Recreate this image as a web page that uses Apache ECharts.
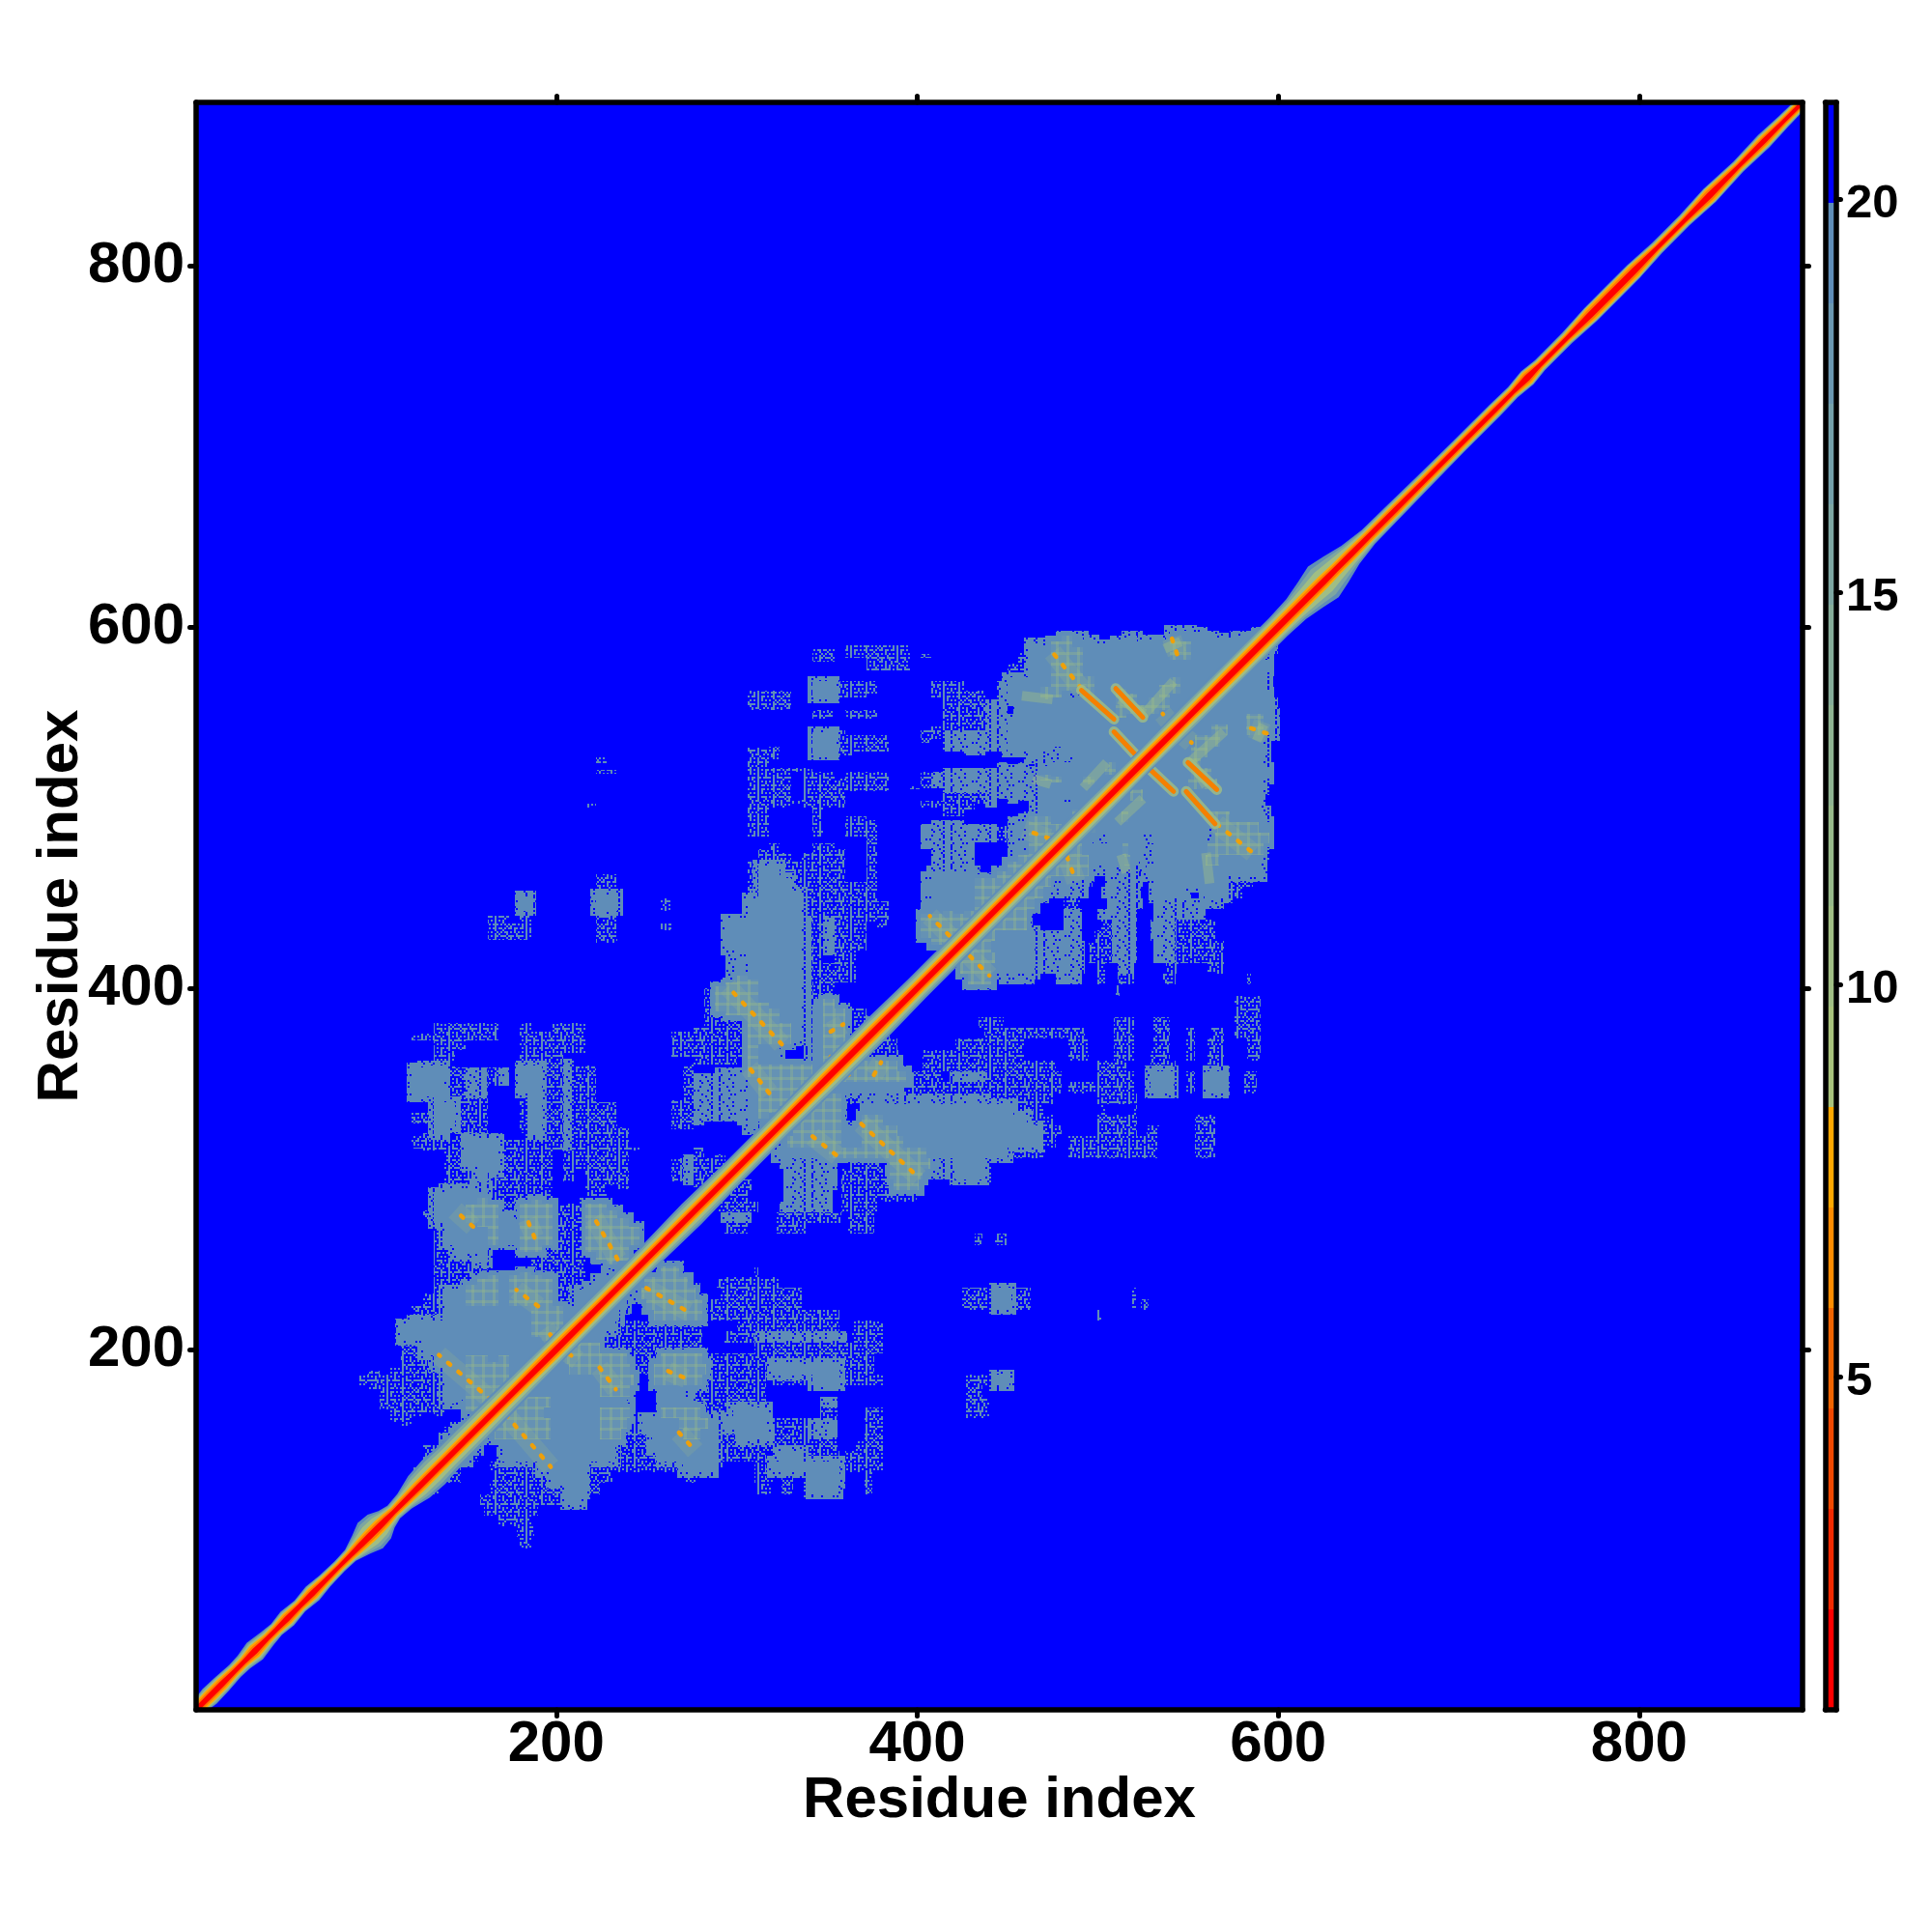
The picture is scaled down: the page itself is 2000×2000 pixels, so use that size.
<!DOCTYPE html>
<html>
<head>
<meta charset="utf-8">
<style>html,body{margin:0;padding:0;background:#fff}#c{width:2000px;height:2000px}</style>
<script src="https://cdn.jsdelivr.net/npm/echarts@6/dist/echarts.min.js"></script>
</head>
<body>
<div id="c"></div>
<script>
// tick labels
const residueTicks = [200, 400, 600, 800];
const colorbarTicks = [5, 10, 15, 20];
const axisTitle = 'Residue index';

// colour bar: level edges and level colours
const levelEdges = [0.76,2.04,3.32,4.6,5.88,7.16,8.44,9.72,11,12.28,13.56,14.84,16.12,17.4,18.68,19.96,21.24];
const levelColors = ['#FF0000','#F22A00','#F04800','#F06400','#FF8C00','#FFA800','#A8C27C','#A0BE84','#97B98A','#8FB392','#86AD9A','#7DA6A2','#74A0AA','#6A97B0','#5F8DB8','#0000FF'];

// contact map, half below the main diagonal; the map is symmetric.
// each row: [row start residue, "from-to kind ..."]; kinds: s sparse, d dense, g solid, h near-contact plaid
const rowHeight = 6;
const contactRows = [
[90,"180-186s"],[96,"178-188s"],[102,"167-186s"],[108,"160-190s"],
[114,"158-205s 205-214g"],
[120,"130-135s 163-205s 205-216g 216-224s 311-319s 325-331s 340-356g 371-375s"],
[126,"134-147s 165-197s 197-216g 216-231s 272-277s 310-320s 325-331s 340-357g 371-375s"],
[132,"134-147s 163-190s 190-216g 216-235s 235-270s 270-287g 310-319s 319-357g 357-381s"],
[138,"138-151g 151-157s 170-233g 233-258s 258-289g 289-316s 323-337g 337-357s 360-381s"],
[144,"144-157g 172-233g 233-253s 253-289g 291-317s 317-356s 366-381s"],
[150,"150-160g 166-197h 197-224g 224-236h 236-252s 253-270g 270-280h 280-289g 291-302s 302-317g 317-339s 339-356d 371-381s"],
[156,"156-166g 166-197h 197-224g 224-239h 239-248s 248-268g 268-284h 284-287g 293-317g 317-339s 339-356d 371-381s"],
[162,"170-193h 193-224g 224-241h 258-280h 280-298s 298-317g 346-356s 371-381s 427-440s"],
[168,"176-197h 197-224g 224-239g 258-274g 274-316s 346-356d 427-440s"],
[174,"180-224g 224-241h 258-272g 274-316s 427-436s"],
[180,"186-224g 224-243h 254-281h 281-316s 320-338s 342-357g 357-381s 427-440s 443-451g"],
[186,"190-207g 207-241h 241-254s 254-283h 285-319s 319-357g 357-376s"],
[192,"193-205g 205-239h 239-258s 258-281h 281-290s 291-357s 357-376s"],
[198,"204-224h 224-281s 310-357s 357-381s"],
[204,"206-224g 224-281s 293-310s 310-361d 364-381s"],
[210,"210-233g 233-281s 300-357s 364-381s"],
[216,"216-235g 254-281h 285-357s 500-502s"],
[222,"222-239g 250-281h 285-337s 425-443s 443-452g 452-463s 519-521s 524-528s"],
[228,"228-241g 247-277h 291-337s 425-443s 443-452g 452-463s 519-521s"],
[234,"234-245g 249-273h 289-323s"],
[240,"258-268h 310-312s"],
[258,"432-436s 443-450s"],
[264,"293-306s 322-338s 362-376s"],
[270,"291-308d 322-358s 362-376s"],
[276,"290-312s 324-353d 358-378s"],
[282,"296-306s 326-353d 358-400s"],
[288,"300-308s 326-356d 358-385s 387-401h"],
[294,"326-356d 358-385s 385-403h 403-421d 421-438g"],
[300,"324-356d 362-380s 385-407h 407-420d 420-438g"],
[306,"322-351g 351-385h 385-405h 405-450g 450-470s 484-533s 554-565s"],
[312,"328-358h 358-369g 369-392h 392-468g 468-477s 484-533s 554-565s"],
[318,"331-358h 358-369g 369-389h 389-468g 468-480s 500-522s 527-534s 554-565s"],
[324,"335-358h 369-381h 381-461g 461-475s 500-522s 554-565s"],
[330,"337-358h 371-453g 453-470s 502-504s 520-522s"],
[336,"340-358h 358-394s 394-440d 440-475s 500-522s"],
[342,"347-391g 394-480s 484-520s 529-542g 549-554s 561-570g 581-588s"],
[348,"352-394h 394-414s 418-439d 439-480s 500-520s 529-542g 549-554s 561-570g 581-588s"],
[354,"358-389h 403-477s 500-516s 529-543s 561-570s"],
[360,"365-390s 403-459s 484-495s 509-520s 529-540s 549-554s 561-570s 583-590s"],
[366,"369-389s 421-459s 484-495s 509-520s 531-540s 549-554s 561-570s 583-590s"],
[372,"373-385s 437-493s 509-520s 531-540s 549-554s 563-570s 576-590s"],
[378,"434-448s 509-520s 531-540s 576-590s"],
[384,"576-590s"],[390,"576-590s"],[396,"510-512s"],
[402,"428-441h 443-465d 477-491d 500-504s 511-520s 536-543s 583-585s"],
[408,"424-441h 443-465g 465-493d 500-504s 511-520d 538-545s 561-570s"],
[414,"424-443h 443-465g 465-493d 495-508s 508-522d 531-543d 543-570s"],
[420,"424-441h 443-465g 465-493d 495-508s 508-522d 531-543d 543-570s"],
[426,"432-443h 443-465g 465-491d 498-508s 508-522d 529-543d 543-565s"],
[432,"437-461h 481-491d 502-508s 508-522d 529-543d 543-565s"],
[438,"443-461h 481-491d 500-522d 531-543d 543-560d"],
[444,"447-465h 481-490s 505-525d 531-545d 545-570d"],
[450,"452-470h 470-495d 502-524d 531-549g 559-572g 572-580s"],
[456,"456-474h 474-497d 504-525d 531-572g 572-586s"],
[462,"461-495h 495-523d 527-591g"],
[468,"468-495h 495-515g 515-518h 518-523g 531-560g 560-567h 567-590g"],
[474,"474-491h 491-514g 514-517h 517-525g 534-561g 561-592h"],
[480,"480-488h 488-497g 505-525g 530-561g 565-595h"],
[486,"486-499h 499-560g 566-589h 589-595g"],
[492,"492-513g 513-517h 517-561g 561-573h 573-593g"],
[498,"498-590g"],
[504,"504-518g 518-525h 525-590g"],
[510,"510-550g 550-566h 566-592g"],
[516,"516-552g 552-563h 563-595g"],
[522,"522-550g 550-557h 557-592g"],
[528,"528-552g 552-561h 561-593g"],
[534,"534-554g 554-568h 568-592g"],
[540,"540-563g 563-572h 572-582g 582-592h 592-598g"],
[546,"546-582g 582-592h 592-598g"],
[552,"552-597g"],[558,"558-595g"],[564,"564-594g"],[570,"570-594g"],[576,"576-595g"],[582,"582-592g"],[588,"588-597g"]
];

// main diagonal band: residue, outer half width, inner (orange) half width, in residues
const bandR = [1,8,15,22,27,33,40,45,51,58,65,72,80,86,92,97,102,106,110,116,124,132,140,150,175,200,225,250,275,300,325,350,375,400,425,450,475,500,525,550,575,600,610,618,625,632,640,650,665,680,700,720,730,738,745,760,773,784,797,810,825,839,855,869,880,891];
const bandW = [6,8,7.5,6.5,7,9,7,6,7.5,6,7.5,6,5.5,6,10,14,13,9,7,8,12,13,12,12,11,10,10,10,11,10,10,11,11,10,10,10,10,10,9,10,10,10,11,14,17,14,10,7.5,7,6.5,6,6,5.5,7,5.5,5.5,7,7,7,5.5,5.5,7,5.5,6.5,5.5,5];
const bandCore = [4.5,5,5,4,4,5.5,4,4,5,4,5,4,3.5,4,5,5.5,5.5,5,4,4.5,5,5,5,5,5,5.5,5,5,5,5,5,5.5,5.5,5,5,5,5,5,5.5,5,5.5,5.5,5.5,5.5,5.5,5,5,4.5,4.5,4,4,4,3.5,5.5,3.5,3.5,5.5,5.5,5.5,3.5,3.5,5.5,3.5,4.5,3.5,3.5];

// anti-parallel contact streaks (x0,y0,x1,y1)
const strongStreaks = [[525,525,542,509],[550,525,566,510],[549,509,565,491]];
const dottedStreaks = [[566,491,586,475],[483,473,488,459],[424,423,440,407],[369,325,401,295],[342,318,356,307],[201,202,212,194],[224,190,233,178],[172,164,197,135],[250,234,273,221],[268,154,277,144],[262,188,272,184],[358,359,362,352],[376,352,380,359],[585,544,594,541],[546,541,552,536]];
const softStreaks = [[552,526,570,542],[525,505,511,492],[513,474,516,464],[560,475,562,458],[588,537,592,546],[552,526,560,512]];

// textures
const sparseTile = [
"#.##.##.#.##.#.##.##.#.#",
"..#.....#.#.....#...#...",
"#.#.#.#.#.#.#.#..#.#.##.",
"...#....#.......#.#...#.",
"##.####.#.###.#.##.###.#",
"#...#...#...#...#.....#.",
"#.#..#.##..#.#.##.#.#..#",
"..#..#...#.....##...#...",
"#.#.#.#.#.##.#..#.#.#.#.",
"..#.#...#...#...#....#..",
"#####.#.###.###.##.####.",
"...#....#...#...#.#.....",
".#.#.#.#..#.#.#.#.#.#.#.",
"#...#...#.......#...#...",
"#.###.#.#.#.##.##.##.#.#",
"....#...#...#...#.....#.",
"#.#.#.#.#.#.#.#...#.#.#.",
"..#.....#...#...#.#.....",
"####.##.##.####.#.###.##",
"...#.#..#.......#....#..",
"#.#...#.#.#.#.#.#.#.#...",
"..#.#...#...#...#...#...",
".##.#.#.#.##.#.###.#.#.#",
"#.....#.#.......#.....#."];
const denseTile = [
"###.####.#####.####.####",
"#######.####.###########",
"##.#####.#######.##.####",
"########.###.###########",
"#.####.#####.####.#####.",
"########.###############",
"###.####.####.####.#.###",
"#####.######.###########",
"########.###.####.######",
"##.###.#####.###########"];

const steel = '#5F8DB8', blue = '#0000FF';
function tile(rows, px) {
  const cv = document.createElement('canvas');
  cv.width = rows[0].length * px; cv.height = rows.length * px;
  const g = cv.getContext('2d');
  g.fillStyle = blue; g.fillRect(0, 0, cv.width, cv.height);
  g.fillStyle = steel;
  rows.forEach((r, j) => { for (let i = 0; i < r.length; i++) if (r[i] === '#') g.fillRect(i * px, j * px, px, px); });
  return { image: cv, repeat: 'repeat' };
}
function plaid() {
  const cv = document.createElement('canvas');
  cv.width = cv.height = 11;
  const g = cv.getContext('2d');
  g.fillStyle = '#6592B4'; g.fillRect(0, 0, 11, 11);
  g.fillStyle = 'rgba(160,190,130,0.32)';
  g.fillRect(0, 4, 11, 3); g.fillRect(4, 0, 3, 11);
  return { image: cv, repeat: 'repeat' };
}
const fills = { s: tile(sparseTile, 2), d: tile(denseTile, 2), g: steel, h: plaid() };

// rows -> rectangles, both sides of the diagonal; kinds are drawn lowest first,
// solid and plaid areas get a soft fringe of the next lower kind so edges are not hard
const rects = [];
function pushRect(a, b, y0, y1, kind) {
  rects.push([a, b, y0, y1, kind]);
  rects.push([y0, y1, a, b, kind]);
}
contactRows.forEach(([y, txt]) => {
  txt.split(' ').forEach(tok => {
    const m = tok.match(/^(\d+)-(\d+)([sdgh])$/);
    const a = +m[1], b = +m[2], k = m[3];
    pushRect(a, b, y, y + rowHeight, k);
    if (k === 'g' || k === 'h') pushRect(a - 3, b + 3, y - 3, y + rowHeight + 3, 'e');
    if (k === 'h') pushRect(a - 2, b + 2, y - 2, y + rowHeight + 2, 'f');
  });
});
fills.e = fills.d; fills.f = steel;
const drawOrder = 'sedfgh';
rects.sort((p, q) => drawOrder.indexOf(p[4]) - drawOrder.indexOf(q[4]));

function rectItem(params, api) {
  const r = rects[params.dataIndex];
  const p0 = api.coord([r[0], r[3]]), p1 = api.coord([r[1], r[2]]);
  const x = Math.round(p0[0]), y = Math.round(p0[1]);
  return { type: 'rect', shape: { x, y, width: Math.round(p1[0]) - x, height: Math.round(p1[1]) - y }, style: { fill: fills[r[4]] } };
}

// band layers from outside in: [colour, fn(outer, core)]
const bandLayers = [
  [steel, (w, c) => w],
  ['#7DA6A2', (w, c) => c + (w - c) * 0.72],
  ['#A0BE84', (w, c) => c + (w - c) * 0.4],
  ['#FFA800', (w, c) => c],
  ['#FF7800', (w, c) => c * 0.72],
  ['#FF0000', (w, c) => c * 0.44]
];
function bandItem(params, api) {
  const L = bandLayers[params.dataIndex];
  const lower = [], upper = [];
  bandR.forEach((r, i) => {
    const h = L[1](bandW[i], bandCore[i]) / 2;
    lower.push(api.coord([r + h, r - h]));
    upper.unshift(api.coord([r - h, r + h]));
  });
  return { type: 'polygon', shape: { points: lower.concat(upper) }, style: { fill: L[0] } };
}
function streakItemFactory(list, stroke, width, dash, opacity, cap) {
  return function (params, api) {
    const s = list[params.dataIndex >> 1];
    const flip = params.dataIndex & 1;
    const a = flip ? api.coord([s[1], s[0]]) : api.coord([s[0], s[1]]);
    const b = flip ? api.coord([s[3], s[2]]) : api.coord([s[2], s[3]]);
    return { type: 'line', shape: { x1: a[0], y1: a[1], x2: b[0], y2: b[1] },
      style: { stroke, lineWidth: width, lineDash: dash, lineCap: cap, fill: null, opacity } };
  };
}
function idx(n) { return Array.from({ length: n }, (_, i) => [i]); }

const font = 'Liberation Sans';
function frameAxis(pos, extra) {
  return Object.assign({
    type: 'value', position: pos, min: 0.5, max: 890.5, z: 20,
    splitLine: { show: false },
    axisLine: { show: true, onZero: false, lineStyle: { color: '#000', width: 5.5, cap: 'round' } },
    axisTick: { show: true, length: 6.5, customValues: residueTicks, lineStyle: { color: '#000', width: 5, cap: 'round' } },
    axisLabel: { show: false }
  }, extra || {});
}
function tickLabel(margin) {
  return { show: true, customValues: residueTicks, color: '#000', fontFamily: font, fontWeight: 'bold', fontSize: 60, margin };
}
const titleStyle = { color: '#000', fontFamily: font, fontWeight: 'bold', fontSize: 60 };
const barLine = { show: true, onZero: false, lineStyle: { color: '#000', width: 5.5, cap: 'round' } };

const chart = echarts.init(document.getElementById('c'), null, { renderer: 'canvas', width: 2000, height: 2000 });
chart.setOption({
  animation: false,
  backgroundColor: '#fff',
  grid: [
    { left: 203, top: 106, width: 1663, height: 1664, show: true, backgroundColor: blue, borderWidth: 0 },
    { left: 1889.5, top: 106, width: 11.5, height: 1664, show: false }
  ],
  xAxis: [
    frameAxis('bottom', { gridIndex: 0, axisLabel: tickLabel(6), name: axisTitle, nameLocation: 'middle', nameGap: 64, nameMoveOverlap: false, nameTextStyle: titleStyle }),
    frameAxis('top', { gridIndex: 0 }),
    { type: 'value', gridIndex: 1, min: 0, max: 1, position: 'bottom', z: 20, splitLine: { show: false }, axisTick: { show: false }, axisLabel: { show: false }, axisLine: barLine },
    { type: 'value', gridIndex: 1, min: 0, max: 1, position: 'top', z: 20, splitLine: { show: false }, axisTick: { show: false }, axisLabel: { show: false }, axisLine: barLine }
  ],
  yAxis: [
    frameAxis('left', { gridIndex: 0, axisLabel: tickLabel(12), name: axisTitle, nameLocation: 'middle', nameGap: 110, nameMoveOverlap: false, nameTextStyle: titleStyle }),
    frameAxis('right', { gridIndex: 0 }),
    { type: 'value', gridIndex: 1, min: 0.76, max: 21.24, position: 'left', z: 20, splitLine: { show: false }, axisTick: { show: false }, axisLabel: { show: false }, axisLine: barLine },
    { type: 'value', gridIndex: 1, min: 0.76, max: 21.24, position: 'right', z: 20, splitLine: { show: false }, axisLine: barLine,
      axisTick: { show: true, length: 4.5, customValues: colorbarTicks, lineStyle: { color: '#000', width: 5, cap: 'round' } },
      axisLabel: { show: true, customValues: colorbarTicks, margin: 10, formatter: '{a|{value}}',
        rich: { a: { color: '#000', fontFamily: font, fontWeight: 'bold', fontSize: 49, padding: [10, 0, 0, 0] } } } }
  ],
  series: [
    { type: 'custom', name: 'contacts', xAxisIndex: 0, yAxisIndex: 0, clip: true, silent: true, z: 2, data: idx(rects.length), renderItem: rectItem },
    { type: 'custom', name: 'dotted halo', xAxisIndex: 0, yAxisIndex: 0, clip: true, silent: true, z: 3, data: idx(dottedStreaks.length * 2), renderItem: streakItemFactory(dottedStreaks, '#A0BE84', 20, null, 0.2, 'butt') },
    { type: 'custom', name: 'soft', xAxisIndex: 0, yAxisIndex: 0, clip: true, silent: true, z: 3, data: idx(softStreaks.length * 2), renderItem: streakItemFactory(softStreaks, '#A0BE84', 10, null, 0.42, 'butt') },
    { type: 'custom', name: 'dotted', xAxisIndex: 0, yAxisIndex: 0, clip: true, silent: true, z: 4, data: idx(dottedStreaks.length * 2), renderItem: streakItemFactory(dottedStreaks, '#F5A000', 4.5, [3, 11], 0.95, 'round') },
    { type: 'custom', name: 'strong halo', xAxisIndex: 0, yAxisIndex: 0, clip: true, silent: true, z: 5, data: idx(strongStreaks.length * 2), renderItem: streakItemFactory(strongStreaks, '#A0BE84', 11, null, 0.8, 'round') },
    { type: 'custom', name: 'strong', xAxisIndex: 0, yAxisIndex: 0, clip: true, silent: true, z: 6, data: idx(strongStreaks.length * 2), renderItem: streakItemFactory(strongStreaks, '#F58000', 5, null, 1, 'round') },
    { type: 'custom', name: 'diagonal', xAxisIndex: 0, yAxisIndex: 0, clip: true, silent: true, z: 7, data: idx(bandLayers.length), renderItem: bandItem },
    { type: 'custom', name: 'colour bar', xAxisIndex: 2, yAxisIndex: 2, silent: true, z: 2, data: idx(levelColors.length),
      renderItem(params, api) {
        const i = params.dataIndex;
        const a = api.coord([0, levelEdges[i + 1]]), b = api.coord([1, levelEdges[i]]);
        return { type: 'rect', shape: { x: a[0], y: a[1], width: b[0] - a[0], height: b[1] - a[1] }, style: { fill: levelColors[i] } };
      } }
  ]
});
</script>
</body>
</html>
